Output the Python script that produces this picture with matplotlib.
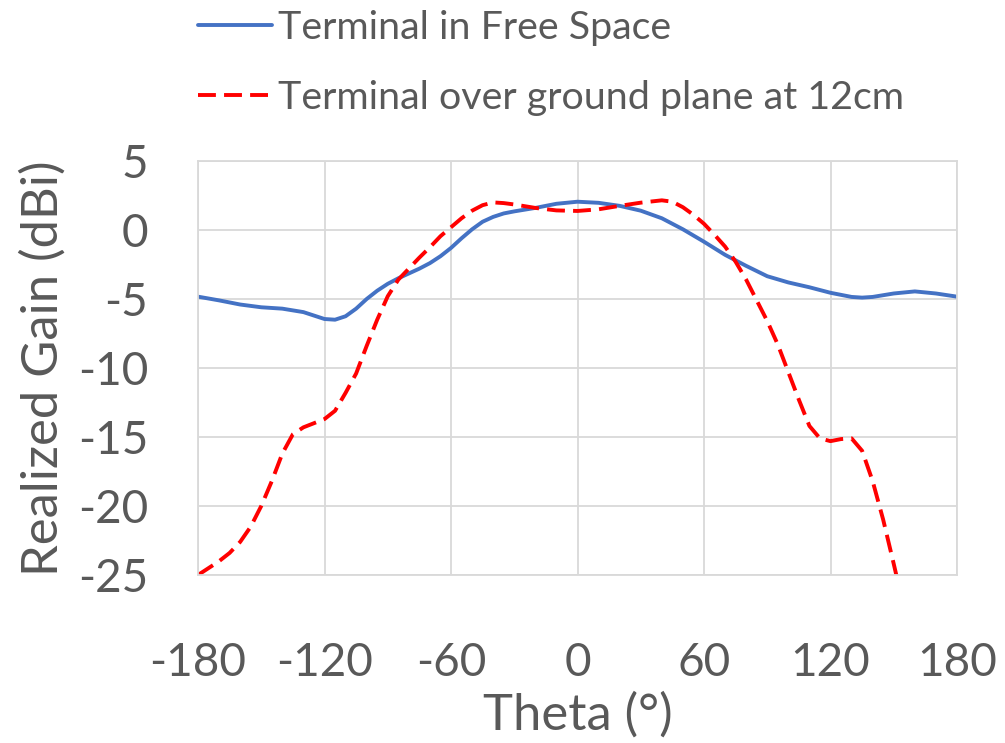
import matplotlib
matplotlib.use("Agg")
import matplotlib.pyplot as plt

theta_free = [-180, -170, -160, -150, -140, -130, -125, -120, -115, -110, -105, -100, -95, -90, -85, -80,
              -75, -70, -65, -60, -55, -50, -45, -40, -35, -30, -20, -10, 0, 10, 20, 30, 40, 50,
              60, 70, 80, 90, 100, 110, 120, 130, 135, 140, 150, 160, 170, 180]
gain_free = [-4.83, -5.1, -5.4, -5.6, -5.7, -5.95, -6.2, -6.45, -6.5, -6.25, -5.7, -5.0, -4.4, -3.9, -3.5, -3.15,
             -2.8, -2.4, -1.9, -1.3, -0.6, 0.05, 0.6, 0.95, 1.2, 1.35, 1.6, 1.9, 2.05, 1.97, 1.75, 1.4, 0.85, 0.05,
             -0.85, -1.8, -2.6, -3.35, -3.8, -4.15, -4.55, -4.85, -4.9, -4.85, -4.6, -4.45, -4.6, -4.83]

theta_gp = [-180, -170, -165, -160, -155, -150, -145, -140, -135, -130, -125, -120, -115, -110, -105,
            -100, -95, -90, -85, -80, -75, -70, -65, -60, -55, -50, -45, -40, -35, -30, -20, -10, 0,
            10, 20, 30, 40, 45, 50, 55, 60, 65, 70, 75, 80, 85, 90, 95, 100, 105, 110, 115, 120,
            125, 130, 135, 140, 145, 150, 155]
gain_gp = [-25.0, -24.0, -23.4, -22.6, -21.5, -20.0, -18.2, -16.2, -14.8, -14.3, -14.0, -13.7, -13.1, -11.8, -10.4,
           -8.4, -6.5, -4.8, -3.6, -2.8, -2.0, -1.25, -0.45, 0.2, 0.85, 1.4, 1.8, 2.0, 1.95, 1.85, 1.6, 1.42, 1.38,
           1.5, 1.75, 1.98, 2.15, 2.05, 1.65, 1.1, 0.45, -0.35, -1.2, -2.3, -3.6, -5.1, -6.6, -8.3, -10.3, -12.3,
           -14.2, -15.1, -15.3, -15.15, -15.1, -16.0, -18.2, -21.0, -24.2, -27.5]

x_ticks = [-180, -120, -60, 0, 60, 120, 180]
y_ticks = [5, 0, -5, -10, -15, -20, -25]
labels = ["Terminal in Free Space", "Terminal over ground plane at 12cm"]

TXT = "#595959"
GRID = "#D9D9D9"
FS_TICK = 33
FS_TITLE = 36.5
FS_LEG = 28.4
plt.rcParams['font.family'] = ['Lato', 'DejaVu Sans']
plt.rcParams['axes.unicode_minus'] = False

fig = plt.figure(figsize=(10.05, 7.43), dpi=100)
ax = fig.add_axes([198/1005, 1 - 575/743, (957-198)/1005, (575-161)/743])

l1, = ax.plot(theta_free, gain_free, color="#4472C4", lw=2.8, solid_joinstyle='round', solid_capstyle='round')
l2, = ax.plot(theta_gp, gain_gp, color="#FF0000", lw=2.8, linestyle=(0, (4.6, 2.1)), dash_joinstyle='round')

ax.set_xlim(-180, 180)
ax.set_ylim(-25, 5)
ax.set_xticks(x_ticks)
ax.set_yticks(y_ticks)
ax.grid(True, color=GRID, lw=1.3)
ax.set_axisbelow(True)
for s in ax.spines.values():
    s.set_color(GRID)
    s.set_linewidth(1.3)
ax.tick_params(length=0, labelsize=FS_TICK, labelcolor=TXT)
ax.tick_params(axis='y', pad=36)
ax.tick_params(axis='x', pad=48)
ax.set_xlabel("Theta (°)", fontsize=FS_TITLE, color=TXT, va='center')
ax.set_ylabel("Realized Gain (dBi)", fontsize=FS_TITLE, color=TXT, va='center')
ax.xaxis.set_label_coords((577.5-198)/759, (575-715)/414)
ax.yaxis.set_label_coords((43-198)/759, 0.5)

fig.legend(handles=[l1, l2], labels=labels, loc='upper left', bbox_to_anchor=(198/1005, 1 - 10/743),
           frameon=False, fontsize=FS_LEG, labelcolor=TXT, handlelength=1.88, handletextpad=0.15,
           labelspacing=0.85, borderaxespad=0, borderpad=0)

fig.savefig("out.png", dpi=100)
